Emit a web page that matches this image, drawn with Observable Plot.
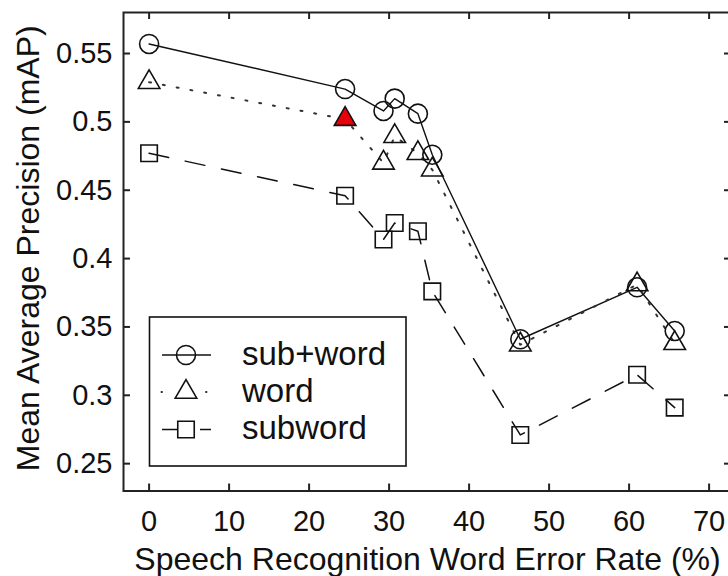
<!DOCTYPE html>
<html>
<head>
<meta charset="utf-8">
<script src="https://cdn.jsdelivr.net/npm/d3@7"></script>
<script src="https://cdn.jsdelivr.net/npm/@observablehq/plot@0.6"></script>
<style>
  html, body { margin: 0; padding: 0; background: white; }
  svg { display: block; }
</style>
</head>
<body>
<div id="chart"></div>
<script>
// ---- Data ----
const wer = [0, 24.5, 29.3, 30.7, 33.6, 35.4, 46.4, 61.0, 65.7];
const subPlusWord = [0.557, 0.524, 0.508, 0.517, 0.506, 0.476, 0.341, 0.379, 0.347];
const word        = [0.529, 0.502, 0.470, 0.4895, 0.477, 0.465, 0.337, 0.381, 0.338];
const subword     = [0.477, 0.446, 0.414, 0.426, 0.420, 0.376, 0.271, 0.315, 0.291];
const highlight   = [false, true, false, false, false, false, false, false, false];
const seriesNames = ["sub+word", "word", "subword"];
const xTicks = [0, 10, 20, 30, 40, 50, 60, 70];
const yTicks = [0.25, 0.3, 0.35, 0.4, 0.45, 0.5, 0.55];
const xTitle = "Speech Recognition Word Error Rate (%)";
const yTitle = "Mean Average Precision (mAP)";

// ---- Layout ----
const W = 728, H = 576;
const mL = 123, mR = -3, mT = 12, mB = 85.5;
const plotW = W - mL - mR, plotH = H - mT - mB;
const tickLen = 7;
const ink = "#111";
const font = "'Liberation Sans', Arial, Helvetica, sans-serif";

const rows = wer.map((x, i) => ({x, sw: subPlusWord[i], w: word[i], s: subword[i], hl: highlight[i]}));

const styles = {
  "sub+word": {symbol: "circle", r: 9.5},
  "word": {symbol: "triangle", r: 8},
  "subword": {symbol: "square", r: 9.3}
};

const chart = Plot.plot({
  width: W, height: H,
  marginLeft: mL, marginRight: mR, marginTop: mT, marginBottom: mB,
  x: {domain: [-3.2, 72.8]},
  y: {domain: [0.23, 0.58]},
  style: {fontFamily: font, color: ink, background: "white"},
  marks: [
    // lines
    Plot.line(rows, {x: "x", y: "sw", stroke: ink, strokeWidth: 1.4}),
    Plot.line(rows, {x: "x", y: "w", stroke: "#333", strokeWidth: 2, strokeDasharray: "2,12", strokeLinecap: "round"}),
    Plot.line(rows, {x: "x", y: "s", stroke: ink, strokeWidth: 1.5, strokeDasharray: "20,17"}),
    // markers
    Plot.dot(rows, {x: "x", y: "sw", symbol: "circle", r: styles["sub+word"].r, stroke: ink, strokeWidth: 1.6, fill: "none"}),
    Plot.dot(rows.filter(d => !d.hl), {x: "x", y: "w", symbol: "triangle", r: styles.word.r, stroke: ink, strokeWidth: 1.6, fill: "none"}),
    Plot.dot(rows.filter(d => d.hl), {x: "x", y: "w", symbol: "triangle", r: styles.word.r, stroke: ink, strokeWidth: 1.6, fill: "#e8000b"}),
    Plot.dot(rows, {x: "x", y: "s", symbol: "square", r: styles.subword.r, stroke: ink, strokeWidth: 1.6, fill: "none"}),
    // inward tick marks on all four sides
    Plot.tickX(xTicks, {x: d => d, insetTop: plotH - tickLen, stroke: "#222", strokeWidth: 2}),
    Plot.tickX(xTicks, {x: d => d, insetBottom: plotH - tickLen, stroke: "#222", strokeWidth: 2}),
    Plot.tickY(yTicks, {y: d => d, insetRight: plotW - tickLen, stroke: "#222", strokeWidth: 2}),
    Plot.tickY(yTicks, {y: d => d, insetLeft: plotW - tickLen, stroke: "#222", strokeWidth: 2}),
    // tick labels
    Plot.axisX({ticks: xTicks, tickSize: 0, tickPadding: 19, fontSize: 29, label: null, tickFormat: d => String(d)}),
    Plot.axisY({ticks: yTicks, tickSize: 0, tickPadding: 11, fontSize: 29, label: null, tickFormat: d => String(d)}),
    // axis titles
    Plot.text([xTitle], {text: d => d, frameAnchor: "bottom", textAnchor: "middle", dy: 68.5, fontSize: 32, lineAnchor: "middle"}),
    Plot.text([yTitle], {text: d => d, frameAnchor: "left", textAnchor: "middle", rotate: -90, dx: -95, dy: -3.5, fontSize: 32, lineAnchor: "middle"}),
    Plot.frame({stroke: "#222", strokeWidth: 2})
  ]
});

// ---- Legend (inside plot area, lower-left) ----
const svg = d3.select(chart);
const lg = svg.append("g").attr("font-family", font).attr("fill", ink).attr("text-anchor", "start");
lg.append("rect").attr("x", 149.5).attr("y", 317).attr("width", 256.5).attr("height", 149)
  .attr("fill", "white").attr("stroke", ink).attr("stroke-width", 1.6);
const rowY = [355, 392, 429.5];
const textY = [364.5, 401.5, 438.5];
const symMap = {circle: d3.symbolCircle, triangle: d3.symbolTriangle, square: d3.symbolSquare};
seriesNames.forEach((name, i) => {
  const st = styles[name];
  const line = lg.append("line").attr("x1", 162).attr("x2", 211).attr("y1", rowY[i]).attr("y2", rowY[i])
    .attr("stroke", i === 1 ? "#333" : ink).attr("stroke-width", i === 1 ? 2 : 1.5);
  if (name === "word") line.attr("stroke-dasharray", "0.5,44").attr("stroke-linecap", "round").attr("x1", 161.5);
  if (name === "subword") line.attr("stroke-dasharray", "15.5,22.5,11,100");
  lg.append("path").attr("d", d3.symbol(symMap[st.symbol], Math.PI * st.r * st.r)())
    .attr("transform", `translate(186,${rowY[i]})`)
    .attr("fill", "none").attr("stroke", ink).attr("stroke-width", 1.6);
  lg.append("text").attr("x", 242).attr("y", textY[i]).attr("font-size", 33).text(name);
});

document.getElementById("chart").appendChild(chart);
</script>
</body>
</html>
